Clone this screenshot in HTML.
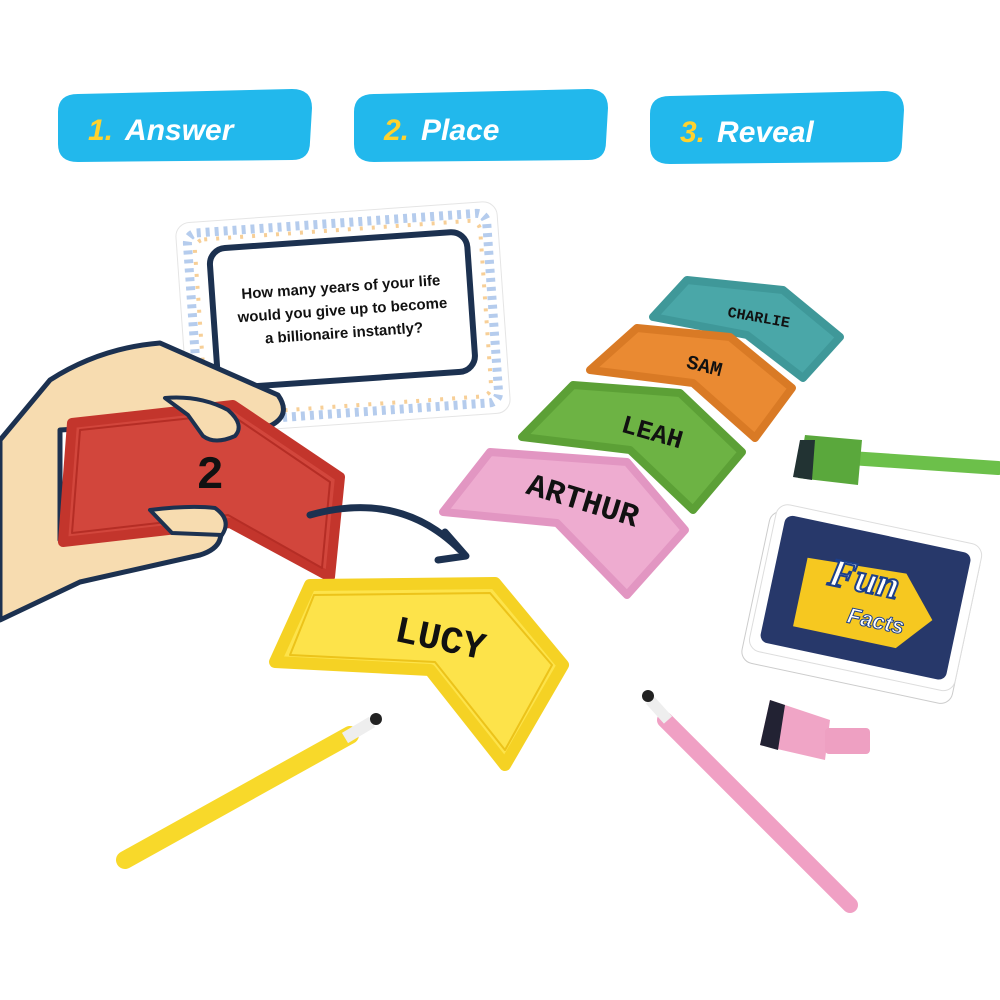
<!DOCTYPE html>
<html><head><meta charset="utf-8"><style>
html,body{margin:0;padding:0;background:#fff;width:1000px;height:1000px;overflow:hidden}
svg{display:block}
.b{font-family:"Liberation Sans",sans-serif;font-style:italic;font-weight:bold;font-size:30px}
.n{font-family:"Liberation Mono",monospace;font-weight:bold;fill:#111}
</style></head><body>
<svg width="1000" height="1000" viewBox="0 0 1000 1000" xmlns="http://www.w3.org/2000/svg">
<g>
<path d="M78,94 L292,89 Q312,89 312,108 L310,142 Q310,160 292,160 L78,162 Q58,162 58,144 L58,112 Q58,94 78,94 Z" fill="#22b8ec"/>
<text x="88" y="140" class="b"><tspan fill="#ffd22e">1.</tspan><tspan fill="#fff" dx="12">Answer</tspan></text>
<path d="M374,94 L588,89 Q608,89 608,108 L606,142 Q606,160 588,160 L374,162 Q354,162 354,144 L354,112 Q354,94 374,94 Z" fill="#22b8ec"/>
<text x="384" y="140" class="b"><tspan fill="#ffd22e">2.</tspan><tspan fill="#fff" dx="12">Place</tspan></text>
<path d="M670,96 L884,91 Q904,91 904,110 L902,144 Q902,162 884,162 L670,164 Q650,164 650,146 L650,114 Q650,96 670,96 Z" fill="#22b8ec"/>
<text x="680" y="142" class="b"><tspan fill="#ffd22e">3.</tspan><tspan fill="#fff" dx="12">Reveal</tspan></text>
</g>
<g transform="rotate(-4 342 318)">
<rect x="182" y="212" width="322" height="212" rx="14" fill="#fff" stroke="#e5e5e5"/>
<rect x="193" y="223" width="300" height="190" rx="10" fill="none" stroke="#5b8fd6" stroke-width="9" stroke-dasharray="4 5" opacity="0.45"/>
<rect x="200" y="230" width="286" height="176" rx="10" fill="none" stroke="#f0a030" stroke-width="4" stroke-dasharray="3 9" opacity="0.5"/>
<rect x="214" y="240" width="258" height="140" rx="16" fill="#fff" stroke="#1c3150" stroke-width="6"/>
<text x="343" y="292" text-anchor="middle" font-family="Liberation Sans,sans-serif" font-weight="bold" font-size="15" fill="#111">How many years of your life</text>
<text x="343" y="315" text-anchor="middle" font-family="Liberation Sans,sans-serif" font-weight="bold" font-size="15" fill="#111">would you give up to become</text>
<text x="343" y="338" text-anchor="middle" font-family="Liberation Sans,sans-serif" font-weight="bold" font-size="15" fill="#111">a billionaire instantly?</text>
</g>
<path d="M0,440 L50,380 Q100,348 160,343 L278,395 Q292,415 270,426 L230,420 L60,430 L60,540 L215,515 Q232,545 200,555 L80,582 L0,620 Z" fill="#f7dcb0" stroke="#1c3150" stroke-width="5" stroke-linejoin="round"/>
<polygon points="72,423 233,405 340,477 330,577 230,523 63,542" fill="#d2463c" stroke="#c3352c" stroke-width="10" stroke-linejoin="round"/>
<polygon points="80,430 230,414 330,482 322,568 228,515 72,533" fill="none" stroke="#b52d25" stroke-width="2" stroke-linejoin="round"/>
<text x="210" y="488" text-anchor="middle" class="n" font-size="46">2</text>
<path d="M165,398 Q200,395 228,410 Q245,425 235,436 Q215,445 203,436 L188,415 Z" fill="#f7dcb0" stroke="#1c3150" stroke-width="4" stroke-linejoin="round"/>
<path d="M150,510 Q190,505 215,508 Q232,520 222,535 L172,533 Z" fill="#f7dcb0" stroke="#1c3150" stroke-width="4" stroke-linejoin="round"/>
<path d="M310,515 Q400,490 460,550" fill="none" stroke="#1c3150" stroke-width="7" stroke-linecap="round"/>
<path d="M445,532 L466,556 L438,560" fill="none" stroke="#1c3150" stroke-width="7" stroke-linecap="round" stroke-linejoin="round"/>
<g stroke-linejoin="round">
<polygon points="687,280 783,290 840,337 803,378 747,335 653,317" fill="#4aa7a8" stroke="#3f9899" stroke-width="8"/>
<text x="758" y="322" text-anchor="middle" class="n" font-size="15" transform="rotate(10 758 322)">CHARLIE</text>
<polygon points="637,328 730,337 792,388 755,438 693,383 590,370" fill="#ea8a32" stroke="#d97a25" stroke-width="8"/>
<text x="703" y="372" text-anchor="middle" class="n" font-size="20" transform="rotate(14 703 372)">SAM</text>
<polygon points="573,385 680,393 742,452 693,510 630,450 522,437" fill="#6db344" stroke="#5ca036" stroke-width="8"/>
<text x="650" y="440" text-anchor="middle" class="n" font-size="26" transform="rotate(16 650 440)">LEAH</text>
<polygon points="490,452 627,462 685,530 627,595 557,523 443,512" fill="#eeacd0" stroke="#e296c2" stroke-width="8"/>
<text x="580" y="510" text-anchor="middle" class="n" font-size="32" transform="rotate(17 580 510)">ARTHUR</text>
<polygon points="310,585 495,583 563,665 505,765 430,670 275,662" fill="#fde34a" stroke="#f5d224" stroke-width="12"/>
<polygon points="314,595 490,593 552,665 505,750 435,662 290,655" fill="none" stroke="#ecc31a" stroke-width="2"/>
<text x="438" y="650" text-anchor="middle" class="n" font-size="38" transform="rotate(12 438 650)">LUCY</text>
</g>
<g transform="rotate(12 862 600)">
<rect x="755" y="530" width="215" height="155" rx="12" fill="#fff" stroke="#ccc"/>
<rect x="760" y="522" width="210" height="150" rx="12" fill="#fff" stroke="#ddd"/>
<rect x="770" y="532" width="190" height="130" rx="8" fill="#27386a"/>
<path d="M800,570 L900,565 L935,605 L905,640 L800,640 Z" fill="#f6c820"/>
<text x="860" y="592" text-anchor="middle" font-family="Liberation Serif,serif" font-style="italic" font-weight="bold" font-size="40" fill="#fff" stroke="#1c3f8a" stroke-width="2">Fun</text>
<text x="880" y="625" text-anchor="middle" font-family="Liberation Sans,sans-serif" font-style="italic" font-weight="bold" font-size="22" fill="#fff" stroke="#1c3f8a" stroke-width="1">Facts</text>
</g>
<line x1="850" y1="458" x2="998" y2="468" stroke="#6cc04a" stroke-width="14" stroke-linecap="round"/>
<polygon points="805,435 862,440 858,485 798,478" fill="#5aa83c"/>
<polygon points="800,440 815,440 812,480 793,477" fill="#233"/>
<polygon points="770,700 830,720 825,760 760,745" fill="#f0a5c6"/>
<polygon points="770,700 785,705 778,750 760,745" fill="#223"/>
<rect x="825" y="728" width="45" height="26" rx="4" fill="#eea0c2"/>
<line x1="125" y1="860" x2="350" y2="735" stroke="#f8d92a" stroke-width="18" stroke-linecap="round"/>
<line x1="345" y1="738" x2="372" y2="722" stroke="#eee" stroke-width="12"/>
<circle cx="376" cy="719" r="6" fill="#222"/>
<line x1="665" y1="720" x2="850" y2="905" stroke="#f0a0c4" stroke-width="16" stroke-linecap="round"/>
<line x1="650" y1="700" x2="668" y2="720" stroke="#eee" stroke-width="11"/>
<circle cx="648" cy="696" r="6" fill="#222"/>
</svg>
</body></html>
